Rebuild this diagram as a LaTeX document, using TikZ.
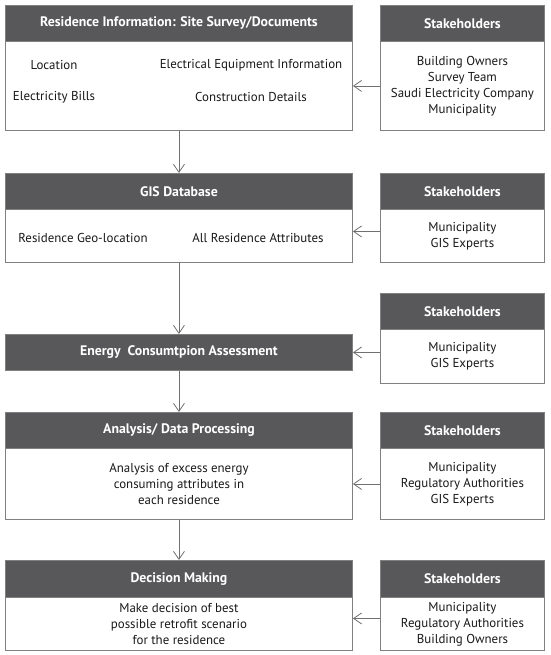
\documentclass[tikz,border=0pt]{standalone}
\usepackage{fontspec}
\setmainfont{PT Sans}
\usetikzlibrary{arrows.meta}
\definecolor{hdr}{HTML}{58585A}
\definecolor{edge}{HTML}{808080}
\definecolor{arr}{HTML}{707070}
\begin{document}
\begin{tikzpicture}[x=1pt,y=-1pt,
  box/.style={draw=edge, line width=0.9pt, fill=white, inner sep=0pt, anchor=north west},
  hd/.style={draw=edge, line width=0.9pt, fill=hdr, text=white, inner sep=0pt, anchor=north west,
    font=\bfseries\fontsize{13.8}{16}\selectfont},
  lft/.style={minimum width=347pt},
  rgt/.style={minimum width=164pt},
  txt/.style={inner sep=0pt, align=center, font=\fontsize{12.9}{15.9}\selectfont, text=black!90},
  conn/.style={draw=arr, line width=0.8pt, -{Straight Barb[length=8pt,width=11pt,line width=0.8pt]}}]
\useasboundingbox (0,0) rectangle (550,655);
% --- Row 1
\node[box, lft, minimum height=89pt] (b1) at (5,41) {};
\node[hd, lft, minimum height=36pt] (h1) at (5,5) {Residence Information: Site Survey/Documents};
\node[txt] (t1a) at (54,65) {Location};
\node[txt] (t1b) at (251,65) {Electrical Equipment Information};
\node[txt] (t1c) at (54,97) {Electricity Bills};
\node[txt] (t1d) at (251,97) {Construction Details};
\node[box, rgt, minimum height=89pt] (s1b) at (380,41) {};
\node[hd, rgt, minimum height=36pt] (s1h) at (380,5) {Stakeholders};
\node[txt] (s1t) at (s1b.center) {Building Owners\\Survey Team\\Saudi Electricity Company\\Municipality};
% --- Row 2
\node[box, lft, minimum height=53pt] (b2) at (5,209) {};
\node[hd, lft, minimum height=36pt] (h2) at (5,173) {GIS Database};
\node[txt] (t2a) at (83,238) {Residence Geo-location};
\node[txt] (t2b) at (258,238) {All Residence Attributes};
\node[box, rgt, minimum height=53pt] (s2b) at (380,209) {};
\node[hd, rgt, minimum height=36pt] (s2h) at (380,173) {Stakeholders};
\node[txt] (s2t) at (s2b.center) {Municipality\\GIS Experts};
% --- Row 3
\node[hd, lft, minimum height=36pt] (e) at (5,334) {Energy~ Consumtpion Assessment};
\node[box, rgt, minimum height=54pt] (s3b) at (380,329) {};
\node[hd, rgt, minimum height=36pt] (s3h) at (380,293) {Stakeholders};
\node[txt] (s3t) at (s3b.center) {Municipality\\GIS Experts};
% --- Row 4
\node[box, lft, minimum height=71pt] (b4) at (5,448) {};
\node[hd, lft, minimum height=36pt] (h4) at (5,412) {Analysis/ Data Processing};
\node[txt] (t4) at (b4.center) {Analysis of excess energy\\consuming attributes in\\each residence};
\node[box, rgt, minimum height=71pt] (s4b) at (380,448) {};
\node[hd, rgt, minimum height=36pt] (s4h) at (380,412) {Stakeholders};
\node[txt] (s4t) at (s4b.center) {Municipality\\Regulatory Authorities\\GIS Experts};
% --- Row 5
\node[box, lft, minimum height=53pt] (b5) at (5,597) {};
\node[hd, lft, minimum height=37pt] (h5) at (5,560) {Decision Making};
\node[txt] (t5) at (b5.center) {Make decision of best\\possible retrofit scenario\\for the residence};
\node[box, rgt, minimum height=53pt] (s5b) at (380,597) {};
\node[hd, rgt, minimum height=37pt] (s5h) at (380,560) {Stakeholders};
\node[txt] (s5t) at (s5b.center) {Municipality\\Regulatory Authorities\\Building Owners};
% --- vertical flow
\draw[conn] (b1.south) -- (h2.north);
\draw[conn] (b2.south) -- (e.north);
\draw[conn] (e.south) -- (h4.north);
\draw[conn] (b4.south) -- (h5.north);
% --- stakeholder arrows
\draw[conn] (s1b.west) -- (b1.east);
\draw[conn] ([yshift=4.5pt]s2b.west) -- ([yshift=4.5pt]b2.east);
\draw[conn] (s3b.west |- e.east) -- (e.east);
\draw[conn] (s4b.west) -- (b4.east);
\draw[conn] ([yshift=5.5pt]s5b.west) -- ([yshift=5.5pt]b5.east);
\end{tikzpicture}
\end{document}
